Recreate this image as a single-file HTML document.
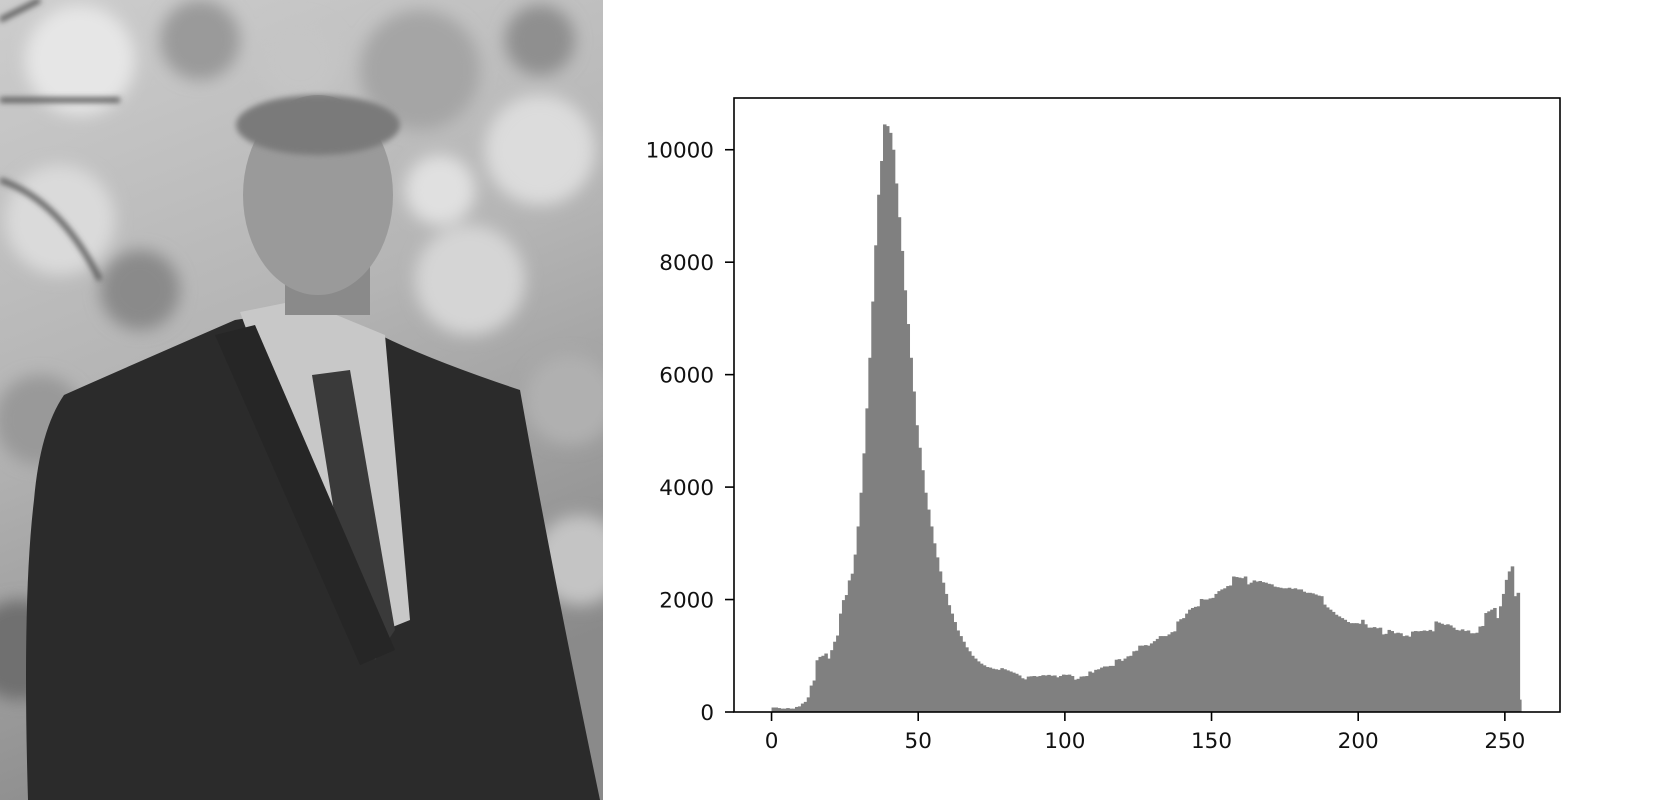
<!DOCTYPE html>
<html><head><meta charset="utf-8">
<style>
html,body{margin:0;padding:0;background:#fff;}
#wrap{position:relative;width:1666px;height:800px;overflow:hidden;}
svg{position:absolute;left:0;top:0;}
text{font-family:"DejaVu Sans","Liberation Sans",sans-serif;font-size:21.5px;fill:#111;}
</style></head>
<body>
<div id="wrap">
<svg width="1666" height="800" viewBox="0 0 1666 800">
  <defs>
    <filter id="blur8"><feGaussianBlur stdDeviation="8"/></filter>
    <filter id="blur3"><feGaussianBlur stdDeviation="3"/></filter>
    <linearGradient id="bg" x1="0" y1="0" x2="0.3" y2="1">
      <stop offset="0" stop-color="#cdcdcd"/><stop offset="0.5" stop-color="#b4b4b4"/><stop offset="1" stop-color="#8a8a8a"/>
    </linearGradient>
    <clipPath id="photoClip"><rect x="0" y="0" width="603" height="800"/></clipPath>
  </defs>
  <g clip-path="url(#photoClip)">
    <rect x="0" y="0" width="603" height="800" fill="url(#bg)"/>
    <g filter="url(#blur8)">
      <circle cx="80" cy="60" r="55" fill="#e6e6e6"/><circle cx="200" cy="40" r="40" fill="#9a9a9a"/>
      <circle cx="420" cy="70" r="60" fill="#a5a5a5"/><circle cx="540" cy="150" r="55" fill="#dcdcdc"/>
      <circle cx="60" cy="220" r="55" fill="#dadada"/><circle cx="140" cy="290" r="40" fill="#8a8a8a"/>
      <circle cx="470" cy="280" r="55" fill="#d5d5d5"/><circle cx="570" cy="400" r="45" fill="#b0b0b0"/>
      <circle cx="40" cy="420" r="45" fill="#999"/><circle cx="580" cy="560" r="45" fill="#c4c4c4"/>
      <circle cx="20" cy="650" r="50" fill="#707070"/><circle cx="300" cy="60" r="40" fill="#c5c5c5"/>
      <circle cx="540" cy="40" r="35" fill="#8f8f8f"/><circle cx="440" cy="190" r="35" fill="#e0e0e0"/>
    </g>
    <path d="M0 20 L40 0 M0 180 Q60 200 100 280 M0 100 L120 100" stroke="#555" stroke-width="5" fill="none" filter="url(#blur3)"/>
    <path d="M64 395 Q120 370 235 320 L300 310 L380 335 Q430 360 520 390 Q550 560 600 800 L28 800 Q22 600 34 500 Q40 430 64 395 Z" fill="#2b2b2b"/>
    <path d="M240 312 L300 300 L385 335 L410 620 L360 640 Z" fill="#c8c8c8"/>
    <path d="M312 375 L350 370 L395 630 L375 660 L345 580 Z" fill="#3a3a3a"/>
    <path d="M215 335 L255 325 L395 650 L360 665 Z" fill="#262626"/>
    <rect x="285" y="250" width="85" height="65" fill="#8a8a8a"/>
    <ellipse cx="318" cy="195" rx="75" ry="100" fill="#9a9a9a"/>
    <ellipse cx="318" cy="125" rx="82" ry="30" fill="#7a7a7a" filter="url(#blur3)"/>
  </g>
  <g id="chart"></g>
</svg>
</div>
<script>
const bins = [];
for (let i = 0; i < 256; i++) bins.push(i);
const counts = [
80,80,70,60,60,70,60,60,90,100,150,180,260,470,560,920,980,1000,1040,950,
1100,1250,1360,1750,1990,2080,2340,2460,2800,3300,3900,4600,5400,6300,7300,8300,9200,9800,10450,10420,
10300,10000,9400,8800,8200,7500,6900,6300,5700,5100,4700,4300,3900,3600,3300,3000,2750,2500,2300,2100,
1900,1750,1600,1450,1350,1250,1150,1080,1000,950,900,860,830,800,790,770,760,750,780,760,
740,720,700,680,650,600,580,630,635,640,630,640,655,650,660,645,650,617,640,665,
660,665,640,575,590,630,635,640,720,700,750,760,790,810,810,820,820,930,940,910,
950,990,1000,1080,1090,1180,1180,1190,1180,1220,1260,1300,1350,1350,1350,1380,1420,1435,1610,1650,
1670,1750,1820,1850,1870,1880,2010,2000,2000,2020,2030,2100,2150,2180,2200,2240,2250,2410,2400,2390,
2380,2410,2270,2300,2340,2320,2330,2310,2300,2280,2270,2230,2220,2210,2200,2200,2210,2190,2200,2180,
2180,2140,2120,2120,2110,2090,2070,2060,1910,1860,1820,1780,1730,1700,1670,1640,1600,1580,1580,1580,
1570,1640,1560,1500,1500,1510,1490,1500,1380,1390,1460,1440,1400,1410,1400,1350,1360,1340,1430,1440,
1435,1440,1450,1440,1460,1435,1610,1590,1570,1550,1560,1540,1500,1460,1450,1470,1440,1450,1400,1400,
1410,1520,1530,1760,1790,1820,1850,1670,1880,2100,2350,2500,2590,2060,2120,220];
const xTicks = [0, 50, 100, 150, 200, 250];
const yTicks = [0, 2000, 4000, 6000, 8000, 10000];

const NS = 'http://www.w3.org/2000/svg';
const plot = {left: 734, right: 1560, top: 98, bottom: 712};
const xMin = -12.8, xMax = 268.8, yMin = 0, yMax = 10920;
function xs(v){ return plot.left + (v - xMin) / (xMax - xMin) * (plot.right - plot.left); }
function ys(v){ return plot.bottom - (v - yMin) / (yMax - yMin) * (plot.bottom - plot.top); }
function mk(tag, attrs){ const e = document.createElementNS(NS, tag); for (const k in attrs) e.setAttribute(k, attrs[k]); return e; }
const g = document.getElementById('chart');

const barsG = mk('g', {});


g.appendChild(barsG);
bins.forEach((b, i) => {
  const x0 = xs(b), x1 = xs(b + (i === bins.length - 1 ? 0.5 : 1)), y = ys(counts[i]);
  const r = mk('rect', {x: x0, y: y, width: (x1 - x0) + 0.6, height: ys(0) - y, fill: '#808080'});
  
  
  barsG.appendChild(r);
});

const frame = mk('rect', {x: plot.left, y: plot.top, width: plot.right - plot.left, height: plot.bottom - plot.top, fill: 'none', stroke: '#000', 'stroke-width': 1.6});


g.appendChild(frame);

xTicks.forEach(t => {
  const x = xs(t);
  const tk = mk('line', {x1: x, x2: x, y1: plot.bottom, y2: plot.bottom + 9, stroke: '#000', 'stroke-width': 1.6});
  
  
  g.appendChild(tk);
  const lb = mk('text', {x: x, y: plot.bottom + 36, 'text-anchor': 'middle'});
  lb.textContent = String(t);
  
  
  g.appendChild(lb);
});
yTicks.forEach(t => {
  const y = ys(t);
  const tk = mk('line', {x1: plot.left - 9, x2: plot.left, y1: y, y2: y, stroke: '#000', 'stroke-width': 1.6});
  
  
  g.appendChild(tk);
  const lb = mk('text', {x: plot.left - 20, y: y + 8, 'text-anchor': 'end'});
  lb.textContent = String(t);
  
  
  g.appendChild(lb);
});
</script>
</body></html>
